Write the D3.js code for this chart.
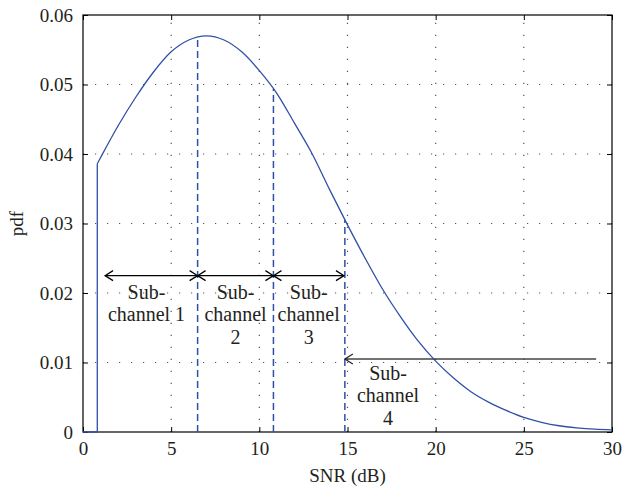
<!DOCTYPE html>
<html><head><meta charset="utf-8">
<script src="https://cdn.jsdelivr.net/npm/d3@7"></script>
<style>
html,body{margin:0;padding:0;background:#fff;}
svg{display:block;}
text{font-family:"Liberation Serif","DejaVu Serif",serif;fill:#231f20;}
</style></head>
<body>
<script>
// ---- data ----
const snrDb   = [0.81, 1, 2, 3, 4, 5, 6, 7, 8, 9, 10, 11, 12, 13, 14, 15, 16, 17, 18, 19, 20, 21, 22, 23, 24, 25, 26, 27, 28, 29, 30];
const pdfVals = [0.0386, 0.0395, 0.0441, 0.0482, 0.0518, 0.0547, 0.0564, 0.0570, 0.0564, 0.0547, 0.0520, 0.0487, 0.0444, 0.0400, 0.0348, 0.0298, 0.0250, 0.0205, 0.0166, 0.0131, 0.0102, 0.0078, 0.0058, 0.0043, 0.0031, 0.0021, 0.0014, 0.0009, 0.0006, 0.0004, 0.0003];
const stepX = [0, 0.81, 0.81];
const stepY = [0, 0, 0.0386];
const boundaryDb  = [6.5, 10.8, 14.85];
const boundaryPdf = [0.0569, 0.0494, 0.0305];
const arrowFrom = [1.25, 6.5, 10.8];
const arrowTo   = [6.5, 10.8, 14.8];
const arrowPdf  = 0.0225;
const arrow4From = 29.1, arrow4To = 14.85, arrow4Pdf = 0.0105;
const labelDb  = [3.6, 8.65, 12.8, 17.3];
const labelLines = [["Sub-", "channel 1"], ["Sub-", "channel", "2"], ["Sub-", "channel", "3"], ["Sub-", "channel", "4"]];
const labelPdf = [0.0192, 0.0192, 0.0192, 0.0075];
const xTicks = [0, 5, 10, 15, 20, 25, 30];
const yTicks = [0, 0.01, 0.02, 0.03, 0.04, 0.05, 0.06];
const yTickLabels = ["0", "0.01", "0.02", "0.03", "0.04", "0.05", "0.06"];

// ---- layout ----
const W = 626, H = 489;
const m = {left: 83, right: 14, top: 15, bottom: 57};
const iw = W - m.left - m.right, ih = H - m.top - m.bottom;
const blue = "#3050a8";

const svg = d3.select("body").append("svg").attr("width", W).attr("height", H);
const g = svg.append("g").attr("transform", `translate(${m.left},${m.top})`);
const x = d3.scaleLinear().domain([0, 30]).range([0, iw]);
const y = d3.scaleLinear().domain([0, 0.06]).range([ih, 0]);

// grid
const grid = g.append("g").attr("stroke", "#555").attr("stroke-width", 1.2).attr("stroke-dasharray", "1.2,10.8");
grid.selectAll("line.vx").data(xTicks.slice(1, -1)).join("line")
  .attr("x1", d => x(d)).attr("x2", d => x(d)).attr("y1", ih).attr("y2", 0);
grid.selectAll("line.hy").data(yTicks.slice(1, -1)).join("line")
  .attr("x1", 0).attr("x2", iw).attr("y1", d => y(d)).attr("y2", d => y(d));

// axes
const fs = "19px";
g.append("g").attr("transform", `translate(0,${ih})`)
  .call(d3.axisBottom(x).tickValues(xTicks).tickSize(-5).tickPadding(10).tickFormat(d3.format("d")));
g.append("g")
  .call(d3.axisLeft(y).tickValues(yTicks).tickSize(-5).tickPadding(10).tickFormat((d, i) => yTickLabels[i]));
g.append("g").call(d3.axisTop(x).tickValues(xTicks).tickSize(-5).tickFormat(""));
g.append("g").attr("transform", `translate(${iw},0)`).call(d3.axisRight(y).tickValues(yTicks).tickSize(-5).tickFormat(""));
g.selectAll(".domain").remove();
g.selectAll(".tick line").attr("stroke", "#000");
g.selectAll(".tick text").style("font-size", fs).attr("fill", "#231f20");
g.append("rect").attr("x", 0).attr("y", 0).attr("width", iw).attr("height", ih)
  .attr("fill", "none").attr("stroke", "#000").attr("stroke-width", 1.2);

// step at start
const lineGen = d3.line().x(d => x(d[0])).y(d => y(d[1]));
g.append("path").datum(stepX.map((v, i) => [v, stepY[i]]))
  .attr("d", lineGen).attr("fill", "none").attr("stroke", blue).attr("stroke-width", 1.3);
// curve
g.append("path").datum(snrDb.map((v, i) => [v, pdfVals[i]]))
  .attr("d", lineGen.curve(d3.curveMonotoneX)).attr("fill", "none").attr("stroke", blue).attr("stroke-width", 1.3);

// boundaries
g.selectAll("line.bd").data(boundaryDb).join("line")
  .attr("x1", d => x(d)).attr("x2", d => x(d)).attr("y1", y(0)).attr("y2", (d, i) => y(boundaryPdf[i]))
  .attr("stroke", blue).attr("stroke-width", 1.5).attr("stroke-dasharray", "7,4");

// arrows
function head(px, py, dir, color) {
  g.append("path").attr("d", `M${px - dir * 8},${py - 5}L${px},${py}L${px - dir * 8},${py + 5}`)
    .attr("fill", "none").attr("stroke", color).attr("stroke-width", 1.2);
}
arrowFrom.forEach((a, i) => {
  const x1 = x(a), x2 = x(arrowTo[i]), yy = y(arrowPdf);
  g.append("line").attr("x1", x1).attr("x2", x2).attr("y1", yy).attr("y2", yy).attr("stroke", "#000").attr("stroke-width", 1.2);
  head(x1, yy, -1, "#000");
  head(x2, yy, 1, "#000");
});
{
  const x1 = x(arrow4From), x2 = x(arrow4To), yy = y(arrow4Pdf);
  g.append("line").attr("x1", x1).attr("x2", x2).attr("y1", yy).attr("y2", yy).attr("stroke", "#444").attr("stroke-width", 1.6);
  head(x2, yy, -1, "#222");
}

// labels
labelLines.forEach((lines, i) => {
  const t = g.append("text").attr("x", x(labelDb[i])).attr("y", y(labelPdf[i]))
    .attr("text-anchor", "middle").style("font-size", "20px");
  lines.forEach((s, j) => t.append("tspan").attr("x", x(labelDb[i])).attr("dy", j === 0 ? 0 : 22.5).text(s));
});

// axis titles
svg.append("text").attr("x", m.left + iw / 2).attr("y", 482).attr("text-anchor", "middle")
  .style("font-size", "19px").text("SNR (dB)");
svg.append("text").attr("transform", `translate(23,${m.top + ih / 2}) rotate(-90)`).attr("text-anchor", "middle")
  .style("font-size", "19px").text("pdf");
</script>
</body></html>
